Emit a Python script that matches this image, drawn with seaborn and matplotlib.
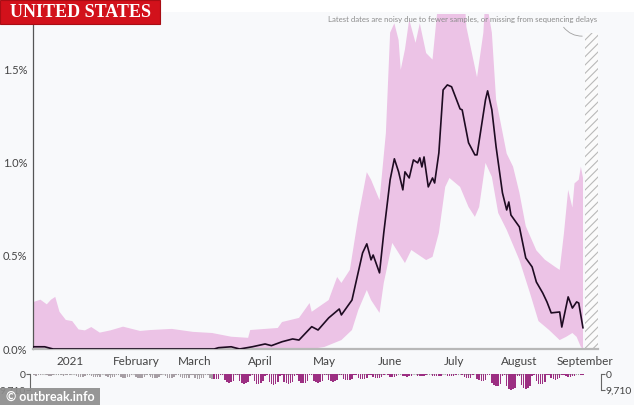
import matplotlib
matplotlib.use("Agg")
import matplotlib.pyplot as plt
import matplotlib.dates as mdates
from matplotlib.patches import Rectangle
from matplotlib.ticker import FuncFormatter
import seaborn as sns
import pandas as pd
import numpy as np

# ---------------- data ----------------
line_dates = ["2020-12-14", "2020-12-20", "2020-12-24", "2021-03-10", "2021-03-12", "2021-03-18",
              "2021-03-22", "2021-03-28", "2021-04-03", "2021-04-06", "2021-04-11", "2021-04-16",
              "2021-04-19", "2021-04-25", "2021-04-28", "2021-05-03", "2021-05-08", "2021-05-09",
              "2021-05-14", "2021-05-19", "2021-05-21", "2021-05-23", "2021-05-24", "2021-05-27",
              "2021-05-29", "2021-06-01", "2021-06-03", "2021-06-05", "2021-06-07", "2021-06-08",
              "2021-06-10", "2021-06-12", "2021-06-14", "2021-06-15", "2021-06-16", "2021-06-17",
              "2021-06-19", "2021-06-21", "2021-06-22", "2021-06-24", "2021-06-26", "2021-06-28",
              "2021-06-30", "2021-07-04", "2021-07-05", "2021-07-08", "2021-07-11", "2021-07-12",
              "2021-07-16", "2021-07-17", "2021-07-19", "2021-07-21", "2021-07-24", "2021-07-26",
              "2021-07-27", "2021-07-28", "2021-08-01", "2021-08-04", "2021-08-07", "2021-08-09",
              "2021-08-12", "2021-08-14", "2021-08-16", "2021-08-20", "2021-08-21", "2021-08-24",
              "2021-08-26", "2021-08-28", "2021-08-29", "2021-08-31"]
line_values = [0.012, 0.012, 0.0, 0.0, 0.007, 0.012,
               0.0, 0.012, 0.027, 0.018, 0.039, 0.054,
               0.048, 0.12, 0.102, 0.167, 0.215, 0.183,
               0.263, 0.516, 0.565, 0.479, 0.505, 0.409,
               0.624, 0.909, 1.022, 0.952, 0.855, 0.952,
               0.919, 1.016, 1.0, 1.027, 0.978, 1.032,
               0.871, 0.919, 0.892, 1.054, 1.392, 1.419,
               1.409, 1.29, 1.285, 1.108, 1.043, 1.043,
               1.339, 1.387, 1.285, 1.086, 0.839, 0.747,
               0.79, 0.72, 0.656, 0.489, 0.441, 0.36,
               0.301, 0.253, 0.194, 0.199, 0.118, 0.28,
               0.22, 0.253, 0.247, 0.113]

upper_dates = ["2020-12-14", "2020-12-18", "2020-12-21", "2020-12-23", "2020-12-25", "2020-12-27",
               "2020-12-30", "2021-01-02", "2021-01-05", "2021-01-08", "2021-01-11", "2021-01-15",
               "2021-01-20", "2021-01-26", "2021-02-03", "2021-02-08", "2021-02-18", "2021-02-28",
               "2021-03-09", "2021-03-18", "2021-03-26", "2021-03-27", "2021-04-09", "2021-04-11",
               "2021-04-19", "2021-04-24", "2021-04-25", "2021-05-03", "2021-05-07", "2021-05-09",
               "2021-05-13", "2021-05-17", "2021-05-21", "2021-05-23", "2021-05-27", "2021-05-30",
               "2021-06-01", "2021-06-03", "2021-06-05", "2021-06-06", "2021-06-08", "2021-06-10",
               "2021-06-13", "2021-06-15", "2021-06-18", "2021-06-21", "2021-06-24", "2021-07-06",
               "2021-07-07", "2021-07-12", "2021-07-15", "2021-07-16", "2021-07-19", "2021-07-21",
               "2021-07-26", "2021-07-29", "2021-08-01", "2021-08-04", "2021-08-09", "2021-08-13",
               "2021-08-18", "2021-08-20", "2021-08-22", "2021-08-24", "2021-08-26", "2021-08-27",
               "2021-08-29", "2021-08-30", "2021-08-31"]
upper_values = [0.25, 0.265, 0.24, 0.265, 0.28, 0.20,
                0.156, 0.15, 0.105, 0.10, 0.118, 0.088,
                0.10, 0.12, 0.097, 0.102, 0.108, 0.092,
                0.086, 0.066, 0.06, 0.102, 0.113, 0.145,
                0.167, 0.247, 0.20, 0.263, 0.387, 0.355,
                0.425, 0.71, 0.95, 0.91, 0.80, 1.16,
                1.70, 1.75, 1.66, 1.50, 1.61, 1.77,
                1.645, 1.75, 1.59, 1.555, 1.9, 1.9,
                1.73, 1.46, 1.70, 1.9, 1.70, 1.34,
                1.05, 0.98, 0.84, 0.66, 0.53, 0.48,
                0.44, 0.425, 0.62, 0.855, 0.76, 0.89,
                0.91, 0.98, 0.92]

lower_dates = ["2020-12-14", "2021-04-25", "2021-05-01", "2021-05-09", "2021-05-14", "2021-05-17",
               "2021-05-21", "2021-05-23", "2021-05-27", "2021-05-29", "2021-06-01", "2021-06-02",
               "2021-06-05", "2021-06-08", "2021-06-11", "2021-06-18", "2021-06-21", "2021-06-24",
               "2021-06-27", "2021-06-29", "2021-07-04", "2021-07-08", "2021-07-11", "2021-07-13",
               "2021-07-16", "2021-07-19", "2021-07-22", "2021-07-26", "2021-08-01", "2021-08-06",
               "2021-08-10", "2021-08-15", "2021-08-20", "2021-08-23", "2021-08-26", "2021-08-28",
               "2021-08-30", "2021-08-31"]
lower_values = [0.0, 0.0, 0.011, 0.048, 0.102, 0.21,
                0.317, 0.263, 0.194, 0.355, 0.516, 0.57,
                0.516, 0.462, 0.532, 0.478, 0.495, 0.624,
                0.871, 0.919, 0.871, 0.763, 0.71, 0.763,
                1.0, 0.925, 0.731, 0.64, 0.478, 0.30,
                0.15, 0.102, 0.048, 0.065, 0.086, 0.065,
                0.011, 0.0]

# daily sequence counts, Mon..Sun weeks starting 2020-12-14
seq_start = "2020-12-14"
seq_counts = [
    700, 900, 1000, 900, 800, 150, 100,
    900, 1100, 1000, 600, 200, 100, 100,
    800, 1000, 900, 300, 600, 150, 100,
    1200, 1600, 1800, 1700, 1400, 300, 200,
    1500, 1900, 2000, 1800, 1600, 300, 200,
    1300, 2100, 2200, 2000, 1700, 400, 250,
    1800, 2200, 2300, 2100, 1900, 400, 300,
    1900, 2300, 2400, 2200, 1800, 400, 300,
    2000, 2400, 2500, 2300, 2000, 500, 300,
    1500, 2200, 2400, 2300, 2100, 500, 300,
    2100, 2600, 2700, 2500, 2200, 500, 400,
    2300, 2800, 2900, 2700, 2400, 600, 400,
    2600, 3100, 3300, 3000, 2800, 700, 500,
    3800, 4800, 5200, 4900, 4300, 900, 600,
    4200, 5400, 5800, 5300, 4700, 1000, 700,
    4500, 5800, 6200, 5700, 4200, 1000, 700,
    4800, 6000, 6400, 5900, 5000, 1100, 800,
    4600, 5700, 6100, 5600, 4800, 1000, 700,
    4300, 5300, 5600, 5200, 4400, 900, 700,
    4000, 4900, 5300, 4800, 4100, 800, 600,
    3500, 4300, 4600, 4200, 3600, 700, 500,
    3000, 3700, 3900, 3600, 3100, 600, 450,
    2500, 3100, 3300, 3000, 2600, 500, 400,
    2000, 2500, 2600, 2300, 1800, 400, 300,
    800, 1600, 1900, 1800, 1500, 300, 250,
    1200, 1500, 1600, 1400, 1200, 300, 200,
    1100, 1300, 1400, 1300, 900, 250, 200,
    1000, 1300, 1400, 1200, 1000, 250, 200,
    1100, 1400, 1500, 1300, 900, 250, 200,
    900, 2000, 2600, 2500, 2200, 400, 300,
    3000, 3800, 4200, 4000, 3500, 600, 500,
    5500, 6800, 7500, 7000, 6000, 1000, 800,
    7500, 9200, 9710, 9300, 8200, 1300, 1000,
    6800, 8500, 9000, 8600, 7400, 1200, 900,
    4500, 5800, 6300, 5800, 5000, 900, 700,
    2500, 3200, 3500, 3100, 2600, 500, 400,
    1200, 1600, 1700, 1500, 1200, 300, 200,
    900, 600]
seq_max = 9710

month_ticks = ["2021-01-01", "2021-02-01", "2021-03-01", "2021-04-01", "2021-05-01",
               "2021-06-01", "2021-07-01", "2021-08-01", "2021-09-01"]
month_labels = ["2021", "February", "March", "April", "May", "June", "July", "August", "September"]
y_ticks = [0.0, 0.5, 1.0, 1.5]

# ---------------- style ----------------
sns.set_style("white")
plt.rcParams["font.family"] = ["Lato", "DejaVu Sans"]
plt.rcParams["hatch.linewidth"] = 0.8

BG = "#f8f9fb"
fig = plt.figure(figsize=(6.34, 4.05), dpi=100)
fig.patch.set_facecolor(BG)
W, H = 634.0, 405.0

fig.patches.append(Rectangle((0, 1 - 12 / H), 1, 12 / H, transform=fig.transFigure,
                             facecolor="white", edgecolor="none", zorder=0))

ax = fig.add_axes([33 / W, 1 - 349 / H, (598 - 33) / W, (349 - 14) / H])
ax.set_facecolor(BG)

ld = pd.to_datetime(line_dates)
ud = pd.to_datetime(upper_dates)
lod = pd.to_datetime(lower_dates)

band_x = np.concatenate([mdates.date2num(ud), mdates.date2num(lod)[::-1]])
band_y = np.concatenate([np.array(upper_values), np.array(lower_values)[::-1]])
ax.fill(band_x, band_y, color="#ecc3e6", lw=0, zorder=1)

df = pd.DataFrame({"date": ld, "value": line_values})
sns.lineplot(data=df, x="date", y="value", ax=ax, color="#1e0b22", lw=1.2, zorder=3)

x0 = pd.Timestamp("2020-12-14 12:00")
x1 = pd.Timestamp("2021-09-07 02:00")
ax.set_xlim(x0, x1)
ax.set_ylim(0, 1.80)

hs = mdates.date2num(pd.Timestamp("2021-09-01"))
ax.add_patch(Rectangle((hs, 0), mdates.date2num(x1) - hs, 1.70, facecolor="#fbfbfb",
                       edgecolor="#b9b9b9", hatch="////", lw=0, zorder=2))

ax.set_xticks(pd.to_datetime(month_ticks))
ax.set_xticklabels(month_labels)
ax.set_yticks(y_ticks)
ax.yaxis.set_major_formatter(FuncFormatter(lambda v, p: f"{v:.1f}%"))
ax.tick_params(axis="x", length=3, color="#999", labelsize=8.5, labelcolor="#444", pad=2)
ax.tick_params(axis="y", length=3, color="#666", labelsize=8, labelcolor="#444", pad=1)
ax.set_xlabel("")
ax.set_ylabel("")
for s in ["top", "right"]:
    ax.spines[s].set_visible(False)
ax.spines["left"].set_color("#555")
ax.spines["left"].set_linewidth(0.9)
ax.spines["bottom"].set_color("#b8b8b8")
ax.spines["bottom"].set_linewidth(1.6)

# ---------------- sequence count strip ----------------
ax2 = fig.add_axes([33 / W, 1 - 390 / H, (598 - 33) / W, 16 / H])
ax2.set_facecolor("none")
sd = pd.date_range(seq_start, periods=len(seq_counts), freq="D")
cols = ["#a79fa5" if d < pd.Timestamp("2021-03-10") else "#9c2f82" for d in sd]
ax2.axhline(0, xmin=0, xmax=(mdates.date2num(sd[-1]) - mdates.date2num(x0)) /
            (mdates.date2num(x1) - mdates.date2num(x0)),
            color="#999", lw=0.8, ls=(0, (1, 1)), zorder=1)
ax2.bar(sd, seq_counts, width=0.7, color=cols, lw=0, zorder=2)
ax2.set_xlim(x0, x1)
ax2.set_ylim(seq_max, 0)
ax2.set_xticks([])
ax2.set_yticks([0, seq_max])
ax2.set_yticklabels(["0", f"{seq_max:,}"])
ax2.tick_params(axis="y", length=3, color="#666", labelsize=7.5, labelcolor="#444", pad=0.5)
for s in ["top", "right", "bottom"]:
    ax2.spines[s].set_visible(False)
ax2.spines["left"].set_position(("outward", 2))
ax2.spines["left"].set_color("#666")
ax2.spines["left"].set_linewidth(0.8)

ax3 = ax2.twinx()
ax3.patch.set_visible(False)
ax3.set_facecolor("none")
ax3.set_ylim(seq_max, 0)
ax3.set_yticks([0, seq_max])
ax3.set_yticklabels(["0", f"{seq_max:,}"])
ax3.tick_params(axis="y", length=3, color="#666", labelsize=7.5, labelcolor="#444", pad=0.5)
for s in ["top", "left", "bottom"]:
    ax3.spines[s].set_visible(False)
ax3.spines["right"].set_position(("outward", 2))
ax3.spines["right"].set_color("#666")
ax3.spines["right"].set_linewidth(0.8)

# ---------------- annotations ----------------
fig.text(597 / W, 1 - 19 / H, "Latest dates are noisy due to fewer samples, or missing from sequencing delays",
         ha="right", va="center", fontsize=5.6, color="#8c8c8c", zorder=5)
ax.annotate("", xy=(585 / W, 1 - 36 / H), xytext=(562 / W, 1 - 25 / H),
            xycoords="figure fraction", textcoords="figure fraction",
            arrowprops=dict(arrowstyle="-", color="#a0a0a0", lw=0.6,
                            connectionstyle="arc3,rad=0.3"))

# title box
fig.patches.append(Rectangle((0, 1 - 24 / H), 160 / W, 24 / H, transform=fig.transFigure,
                             facecolor="#d2111b", edgecolor="#a80d14", lw=0.8, zorder=6))
fig.text(80 / W, 1 - 12.5 / H, "UNITED STATES", ha="center", va="center",
         fontsize=13, fontweight="bold", family="Liberation Serif",
         color="white", zorder=7)

# credit box
fig.patches.append(Rectangle((0, 0), 100 / W, 17 / H, transform=fig.transFigure,
                             facecolor="#8e8e8e", edgecolor="none", alpha=0.92, zorder=6))
fig.text(50 / W, 8.5 / H, "© outbreak.info", ha="center", va="center",
         fontsize=9, fontweight="bold", color="white", zorder=7)

fig.savefig("out.png", dpi=100, facecolor=fig.get_facecolor())
